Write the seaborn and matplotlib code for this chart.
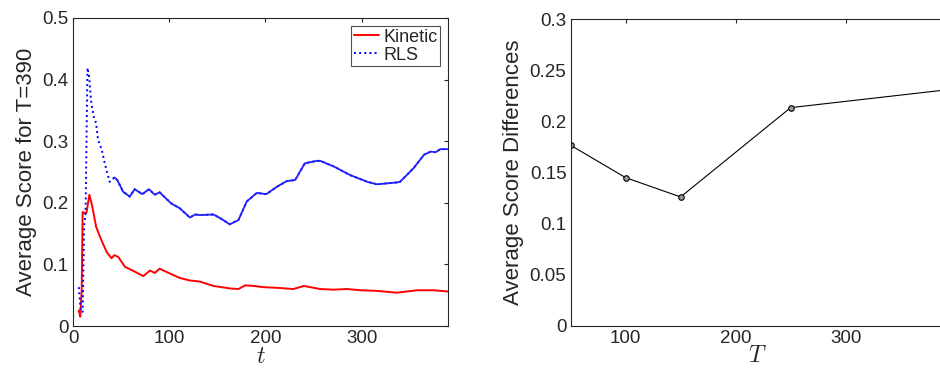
import numpy as np
import pandas as pd
import matplotlib
matplotlib.use("Agg")
import matplotlib.pyplot as plt
import seaborn as sns

# ---- data ----
kin_t = [6, 7.5, 9, 10, 12.5, 14, 17, 20, 24, 28, 31, 35, 40, 43, 47, 54, 62, 73, 80, 85, 90,
         101, 111, 121, 132, 146, 163, 172, 179, 188, 198, 212, 229, 240, 257, 271, 285,
         299, 316, 337, 347, 358, 375, 390]
kin_v = [0.025, 0.015, 0.058, 0.185, 0.183, 0.184, 0.213, 0.194, 0.161, 0.145, 0.134, 0.120,
         0.110, 0.115, 0.112, 0.096, 0.090, 0.081, 0.090, 0.086, 0.093, 0.085, 0.078, 0.074,
         0.072, 0.065, 0.061, 0.060, 0.066, 0.065, 0.063, 0.062, 0.060, 0.065, 0.060, 0.059,
         0.060, 0.058, 0.057, 0.054, 0.056, 0.058, 0.058, 0.056]

rls_t = [6, 8, 10, 11.5, 13, 15, 16.7, 19, 21.5, 24, 26, 29.5, 33, 38, 43, 46, 52, 59, 64,
         72, 79, 85, 90, 102, 111, 121.5, 127, 132, 146, 153, 163, 172, 180.6, 191, 201,
         212, 222, 231, 241, 253.5, 257, 271, 288, 306, 316, 337, 340, 354, 365, 372, 377,
         382, 390]
rls_v = [0.063, 0.023, 0.023, 0.161, 0.183, 0.419, 0.405, 0.362, 0.340, 0.329, 0.302, 0.288,
         0.264, 0.234, 0.241, 0.237, 0.218, 0.210, 0.222, 0.214, 0.222, 0.213, 0.217, 0.199,
         0.191, 0.176, 0.181, 0.180, 0.181, 0.175, 0.165, 0.172, 0.202, 0.216, 0.214, 0.226,
         0.235, 0.237, 0.264, 0.268, 0.268, 0.259, 0.245, 0.234, 0.230, 0.233, 0.234, 0.256,
         0.278, 0.283, 0.282, 0.287, 0.287]

diff_T = [50, 100, 150, 250, 390]
diff_v = [0.1765, 0.1448, 0.1259, 0.2133, 0.2305]

left_xticks = [0, 100, 200, 300]
left_yticks = [0, 0.1, 0.2, 0.3, 0.4, 0.5]
right_xticks = [100, 200, 300]
right_yticks = [0, 0.05, 0.1, 0.15, 0.2, 0.25, 0.3]

# ---- style ----
sns.set_style("white")
plt.rcParams['font.family'] = ['Liberation Sans', 'DejaVu Sans']
plt.rcParams['mathtext.fontset'] = 'cm'
txt = '#262626'

fig = plt.figure(figsize=(9.4, 3.73), dpi=100)
ax1 = fig.add_axes([0.0777, 0.126, 0.399, 0.826])
ax2 = fig.add_axes([0.607, 0.127, 0.398, 0.822])

df_k = pd.DataFrame({'t': kin_t, 'v': kin_v})
df_r = pd.DataFrame({'t': rls_t, 'v': rls_v})
sns.lineplot(data=df_k, x='t', y='v', ax=ax1, color='#ff0000', lw=1.4, label='Kinetic')
sns.lineplot(data=df_r, x='t', y='v', ax=ax1, color='#0000ff', lw=1.4, linestyle=':',
             label='RLS')
# dense-sample part of the dotted MATLAB line renders almost solid
df_r_late = df_r[df_r['t'] >= 43]
sns.lineplot(data=df_r_late, x='t', y='v', ax=ax1, color='#2020ff', lw=1.3,
             linestyle='-', legend=False)
ax1.set_xlim(0, 390)
ax1.set_ylim(0, 0.5)
ax1.set_xticks(left_xticks)
ax1.set_yticks(left_yticks)
ax1.set_yticklabels(['0', '0.1', '0.2', '0.3', '0.4', '0.5'])
ax1.set_xlabel('$t$', fontsize=17, color=txt, labelpad=-1)
ax1.set_ylabel('Average Score for T=390', fontsize=16, color=txt, labelpad=4)
leg = ax1.legend(loc='upper right', fontsize=13, frameon=True, fancybox=False,
                 borderpad=0.15, handlelength=1.4, handletextpad=0.2, labelspacing=0.05,
                 borderaxespad=0.45)
leg.get_frame().set_edgecolor('#262626')
leg.get_frame().set_linewidth(0.8)

df_d = pd.DataFrame({'T': diff_T, 'v': diff_v})
sns.lineplot(data=df_d, x='T', y='v', ax=ax2, color='black', lw=0.8, marker='o',
             markersize=4, markerfacecolor='#9a9a9a', markeredgecolor='black',
             markeredgewidth=0.8)
ax2.set_xlim(50, 390)
ax2.set_ylim(0, 0.3)
ax2.set_xticks(right_xticks)
ax2.set_yticks(right_yticks)
ax2.set_yticklabels(['0', '0.05', '0.1', '0.15', '0.2', '0.25', '0.3'])
ax2.set_xlabel('$T$', fontsize=17, color=txt, labelpad=-1)
ax2.set_ylabel('Average Score Differences', fontsize=16, color=txt, labelpad=4)

for ax in (ax1, ax2):
    ax.tick_params(direction='in', top=True, right=True, length=3, width=0.8,
                   labelsize=13.5, colors=txt, pad=3)
    for s in ax.spines.values():
        s.set_color(txt)
        s.set_linewidth(0.8)
        s.set_visible(True)
ax2.tick_params(axis='y', right=False)

fig.savefig('out.png', dpi=100)
